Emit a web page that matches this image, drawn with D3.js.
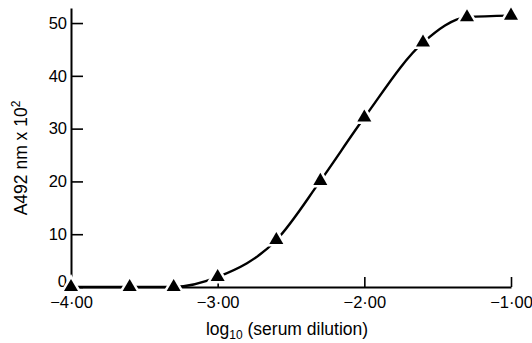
<!DOCTYPE html>
<html>
<head>
<meta charset="utf-8">
<script src="https://cdn.jsdelivr.net/npm/d3@7"></script>
<style>
  body { margin: 0; background: #fff; }
  svg { display: block; font-family: "Liberation Sans", Arial, sans-serif; }
</style>
</head>
<body>
<div class="plot"></div>
<script>
// data
const logDilution = [-4.0, -3.6, -3.3, -3.0, -2.6, -2.3, -2.0, -1.6, -1.3, -1.0];
const absorbance = [0, 0, 0, 1.9, 8.9, 20.1, 32.1, 46.3, 51.1, 51.4];
const xTicks = [-4, -3, -2, -1];
const yTicks = [0, 10, 20, 30, 40, 50];

const points = logDilution.map((d, i) => ({x: d, y: absorbance[i]}));

//svg environment
const width = 532;
const height = 343;
const svg = d3.select('.plot')
    .append('svg')
    .attr('width', width)
    .attr('height', height);

const x = d3.scaleLinear().domain([-4, -1]).range([71, 511]);
const y = d3.scaleLinear().domain([0, 52.85]).range([287, 8]);

// y axis, ticks pointing inwards
const yAxis = svg.append('g')
    .attr('transform', 'translate(' + x(-4) + ',0)')
    .call(d3.axisLeft(y).tickValues(yTicks).tickSize(-12).tickSizeOuter(0).tickPadding(4)
        .tickFormat(d => d));
yAxis.selectAll('text')
    .attr('font-size', 16.5)
    .attr('font-family', '"Liberation Sans", Arial, sans-serif')
    .attr('fill', '#000');
yAxis.selectAll('text').filter(d => d === 0).attr('dy', '-0.05em');

// x axis
const fmt = d3.format('.2f');
const xAxis = svg.append('g')
    .attr('transform', 'translate(0,' + y(0) + ')')
    .call(d3.axisBottom(x).tickValues(xTicks).tickSize(-10).tickSizeOuter(0).tickPadding(9)
        .tickFormat(d => fmt(d).replace('.', '·')));
xAxis.selectAll('text')
    .attr('font-size', 16.5)
    .attr('font-family', '"Liberation Sans", Arial, sans-serif')
    .attr('fill', '#000');

svg.selectAll('.domain').attr('stroke', '#000').attr('stroke-width', 2);
svg.selectAll('.tick line').attr('stroke', '#000').attr('stroke-width', 1.6);

// fitted curve
const line = d3.line()
    .x(d => x(d.x))
    .y(d => y(d.y))
    .curve(d3.curveMonotoneX);

svg.append('path')
    .datum(points)
    .attr('d', line)
    .attr('fill', 'none')
    .attr('stroke', '#000')
    .attr('stroke-width', 2.4);

// triangles with a white halo so the line breaks around them
svg.selectAll('.pt')
    .data(points)
    .enter()
    .append('path')
    .attr('class', 'pt')
    .attr('d', d3.symbol(d3.symbolTriangle, 85))
    .attr('transform', d => 'translate(' + x(d.x) + ',' + y(d.y) + ')')
    .attr('fill', '#000')
    .attr('stroke', '#fff')
    .attr('stroke-width', 5)
    .attr('paint-order', 'stroke');

// axis titles
const xt = svg.append('text')
    .attr('x', 287)
    .attr('y', 335)
    .attr('text-anchor', 'middle')
    .attr('font-size', 17.5);
xt.append('tspan').text('log');
xt.append('tspan').text('10').attr('font-size', 12).attr('dy', 4);
xt.append('tspan').text(' (serum dilution)').attr('dy', -4);

const yt = svg.append('text')
    .attr('transform', 'translate(27,158) rotate(-90)')
    .attr('text-anchor', 'middle')
    .attr('font-size', 17.5);
yt.append('tspan').text('A492 nm x 10');
yt.append('tspan').text('2').attr('font-size', 12).attr('dy', -7);
</script>
</body>
</html>
